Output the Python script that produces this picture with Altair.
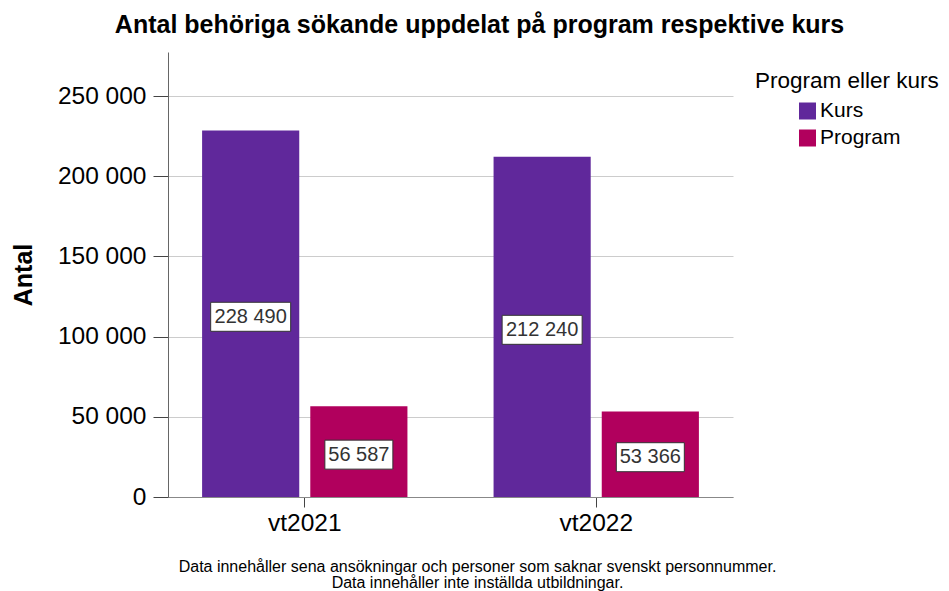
import altair as alt
import pandas as pd

# ---- data ----
terms = ["vt2021", "vt2021", "vt2022", "vt2022"]
types = ["Kurs", "Program", "Kurs", "Program"]
counts = [228490, 56587, 212240, 53366]

type_order = ["Kurs", "Program"]
type_colors = ["#60289b", "#b1005d"]
y_ticks = [0, 50000, 100000, 150000, 200000, 250000]
y_max = 277500

chart_title = "Antal behöriga sökande uppdelat på program respektive kurs"
y_title = "Antal"
legend_title = "Program eller kurs"
footnote = [
    "Data innehåller sena ansökningar och personer som saknar svenskt personnummer.",
    "Data innehåller inte inställda utbildningar.",
]

df = pd.DataFrame({"Termin": terms, "Typ": types, "Antal": counts})

FONT = "Liberation Sans"

# label box shapes (custom symbol paths, scaled by sqrt(size)/2)
box_kurs = "M-1,-0.2875L1,-0.2875L1,0.4375L-1,0.4375Z"
box_prog = "M-0.85,-0.2875L0.85,-0.2875L0.85,0.4375L-0.85,0.4375Z"

x_enc = alt.X(
    "Termin:N",
    scale=alt.Scale(paddingInner=0.2955, paddingOuter=0.117),
    axis=alt.Axis(
        labelAngle=0,
        labelFont=FONT,
        labelFontSize=24.5,
        labelColor="black",
        labelPadding=4,
        tickSize=10,
        tickColor="#444444",
        domainColor="#888888",
        title=footnote,
        titleFont=FONT,
        titleFontSize=16,
        titleFontWeight="normal",
        titleColor="black",
        titleX=309,
        titleY=61,
        titleBaseline="top",
        titleLineHeight=16,
    ),
)
xoff_enc = alt.XOffset(
    "Typ:N", scale=alt.Scale(domain=type_order, paddingInner=0.102, paddingOuter=0)
)
y_scale = alt.Scale(domain=[0, y_max], nice=False, zero=True)
y_axis = alt.Axis(
    values=y_ticks,
    labelExpr="replace(format(datum.value, ','), ',', ' ')",
    labelFont=FONT,
    labelFontSize=24.5,
    labelColor="black",
    labelPadding=7,
    tickSize=15,
    tickColor="#444444",
    domainColor="#666666",
    gridColor="#cccccc",
    title=y_title,
    titleFont=FONT,
    titleFontSize=25,
    titleFontWeight="bold",
    titleColor="black",
    titleX=-132,
)

base = alt.Chart(df).encode(x=x_enc, xOffset=xoff_enc)

bars = base.mark_bar().encode(
    y=alt.Y("Antal:Q", scale=y_scale, axis=y_axis, title=y_title),
    color=alt.Color(
        "Typ:N",
        scale=alt.Scale(domain=type_order, range=type_colors),
        legend=alt.Legend(
            title=legend_title,
            orient="none",
            legendX=587,
            legendY=18,
            padding=0,
            titleFont=FONT,
            titleFontSize=22.5,
            titleFontWeight="normal",
            titleColor="black",
            titlePadding=8,
            titleLimit=0,
            labelFont=FONT,
            labelFontSize=21,
            labelColor="black",
            labelOffset=2,
            symbolType="square",
            symbolSize=289,
            symbolStrokeWidth=0,
            symbolOffset=42,
            rowPadding=5,
        ),
    ),
)

labelled = base.transform_calculate(
    mid="datum.Antal / 2",
    lab="replace(format(datum.Antal, ','), ',', ' ')",
)


def box_layer(kind, path):
    return (
        labelled.transform_filter(alt.datum.Typ == kind)
        .mark_point(
            shape=path,
            filled=True,
            fill="white",
            stroke="#333333",
            strokeWidth=1,
            opacity=1,
            size=6400,
        )
        .encode(y=alt.Y("mid:Q", scale=y_scale, axis=y_axis, title=y_title))
    )


boxes_kurs = box_layer("Kurs", box_kurs)
boxes_prog = box_layer("Program", box_prog)

texts = labelled.mark_text(
    font=FONT, fontSize=20, color="#333333", dy=3
).encode(
    y=alt.Y("mid:Q", scale=y_scale, axis=y_axis, title=y_title),
    text="lab:N",
)

chart = (
    alt.layer(bars, boxes_kurs, boxes_prog, texts)
    .properties(
        width=565,
        height=445,
        autosize=alt.AutoSizeParams(type="none"),
        padding={"left": 160, "top": 44, "right": 208, "bottom": 94},
        title=alt.TitleParams(
            chart_title,
            font=FONT,
            fontSize=25,
            fontWeight="bold",
            color="black",
            anchor="middle",
            dx=29,
            offset=14,
        ),
    )
    .configure_view(strokeWidth=0)
)

chart.save("out.html", embed_options={"renderer": "svg", "actions": False})
